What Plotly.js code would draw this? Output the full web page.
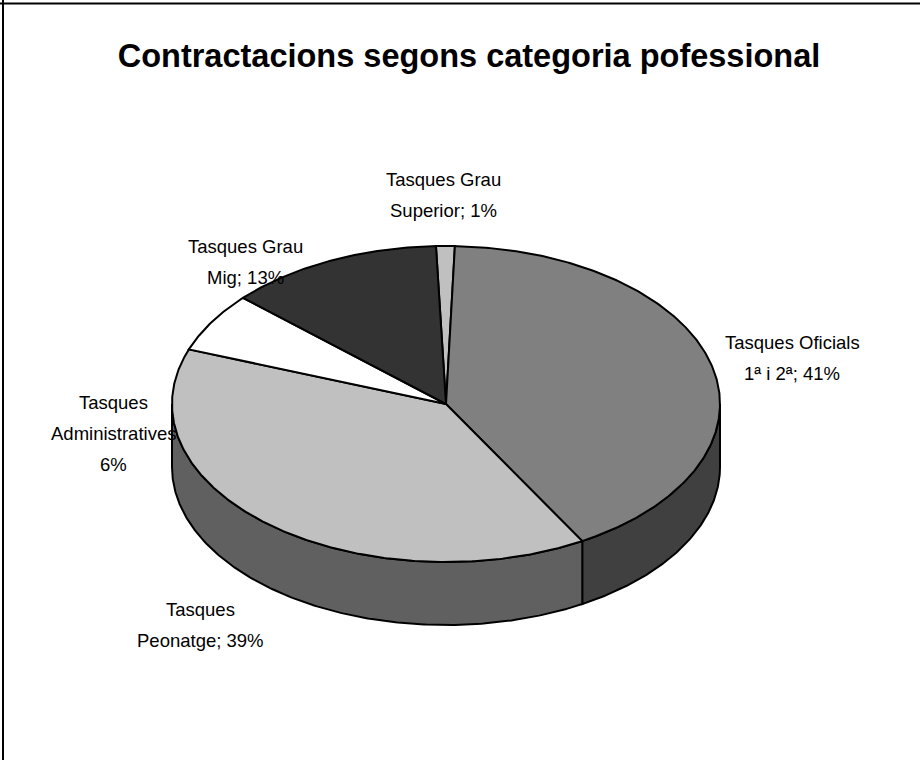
<!DOCTYPE html>
<html>
<head>
<meta charset="utf-8">
<script src="https://cdn.plot.ly/plotly-3.0.1.min.js"></script>
<style>html,body{margin:0;padding:0;background:#fff;}#chart{width:920px;height:760px;}</style>
</head>
<body>
<div id="chart"></div>
<script>
// ---- data ----
const chartTitle = "Contractacions segons categoria pofessional";
const categories = ["Tasques Grau Superior", "Tasques Oficials 1ª i 2ª", "Tasques Peonatge", "Tasques Administratives", "Tasques Grau Mig"];
const shares = [1.1, 41.2, 38.9, 6.1, 12.7];
const topColors = ["#c0c0c0", "#808080", "#c0c0c0", "#ffffff", "#333333"];
// how each label wraps: first line, then the rest (Excel-style wrapping)
const firstLines = ["Tasques Grau", "Tasques Oficials", "Tasques", "Tasques", "Tasques Grau"];

// ---- geometry / style (pixel space) ----
const cx = 446, cy = 404, rx = 274, ry = 158, depth = 63, startDeg = -2.1;
const labelPos = [[443, 195], [792, 358], [200, 625], [113, 433], [245, 262]];
const lineGap = 31;
const FONT = "Liberation Sans, Arial, sans-serif";

function pt(deg, dz) {
  const r = deg * Math.PI / 180;
  return [cx + rx * Math.sin(r), cy - ry * Math.cos(r) + (dz || 0)];
}
function arc(a, b, dz) {
  const pts = [];
  const n = Math.max(2, Math.ceil(Math.abs(b - a) / 0.5));
  for (let i = 0; i <= n; i++) pts.push(pt(a + (b - a) * i / n, dz));
  return pts;
}
function darker(hex) {
  const v = parseInt(hex.slice(1), 16);
  const r = ((v >> 16) & 255) >> 1, g = ((v >> 8) & 255) >> 1, b = (v & 255) >> 1;
  return "rgb(" + r + "," + g + "," + b + ")";
}

const total = shares.reduce((s, v) => s + v, 0);
const bounds = [];
let acc = startDeg;
shares.forEach(v => { const a = acc; acc += v / total * 360; bounds.push([a, acc]); });

const traces = [];
// side walls (front half only: 90..270 deg)
bounds.forEach(([a, b], i) => {
  const s = Math.max(a, 90), e = Math.min(b, 270);
  if (e <= s) return;
  const pts = arc(s, e, 0).concat(arc(e, s, depth));
  pts.push(pts[0]);
  traces.push({
    type: "scatter", mode: "lines", x: pts.map(p => p[0]), y: pts.map(p => p[1]),
    fill: "toself", fillcolor: darker(topColors[i]),
    line: {color: "#000", width: 2}, hoverinfo: "skip", showlegend: false
  });
});
// top faces
bounds.forEach(([a, b], i) => {
  const pts = [[cx, cy]].concat(arc(a, b, 0));
  pts.push([cx, cy]);
  traces.push({
    type: "scatter", mode: "lines", x: pts.map(p => p[0]), y: pts.map(p => p[1]),
    fill: "toself", fillcolor: topColors[i],
    line: {color: "#000", width: 2}, hoverinfo: "text", text: categories[i], showlegend: false
  });
});

// labels
const annotations = [];
categories.forEach((c, i) => {
  const pct = Math.round(shares[i] / total * 100) + "%";
  const rest = c.slice(firstLines[i].length).trim();
  let lines = [firstLines[i]];
  if ((rest + "; " + pct).length > 16) { lines.push(rest); lines.push(pct); }
  else lines.push(rest + "; " + pct);
  const [lx, ly] = labelPos[i];
  const y0 = ly - (lines.length - 1) * lineGap / 2;
  lines.forEach((t, k) => annotations.push({
    xref: "x", yref: "y", x: lx, y: y0 + k * lineGap, text: t, showarrow: false,
    xanchor: "center", yanchor: "middle", font: {family: FONT, size: 18.5, color: "#000"}
  }));
});

const layout = {
  width: 920, height: 760,
  margin: {l: 0, r: 0, t: 0, b: 0},
  paper_bgcolor: "#fff", plot_bgcolor: "#fff",
  title: {text: "<b>" + chartTitle + "</b>", x: 469 / 920, xanchor: "center", y: 1 - 56 / 760, yanchor: "middle",
          font: {family: FONT, size: 32.5, color: "#000"}},
  xaxis: {range: [0, 920], visible: false, fixedrange: true},
  yaxis: {range: [760, 0], visible: false, fixedrange: true},
  showlegend: false,
  annotations: annotations,
  shapes: [
    {type: "line", xref: "paper", yref: "paper", x0: 0, x1: 1, y0: 1 - 3.5 / 760, y1: 1 - 3.5 / 760, line: {color: "#000", width: 2}},
    {type: "line", xref: "paper", yref: "paper", x0: 3 / 920, x1: 3 / 920, y0: 0, y1: 1, line: {color: "#000", width: 2}}
  ]
};

Plotly.newPlot("chart", traces, layout, {displayModeBar: false, staticPlot: true});
</script>
</body>
</html>
